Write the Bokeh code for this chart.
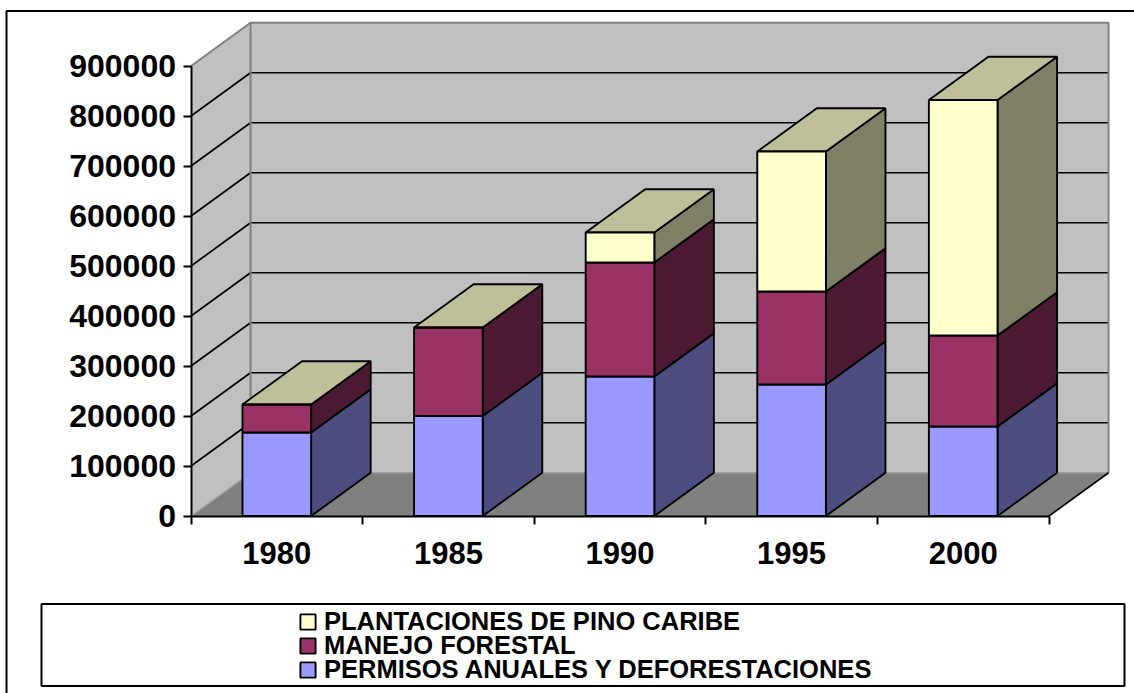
from bokeh.plotting import figure
from bokeh.models import (Range1d, FixedTicker, NumeralTickFormatter, Legend, LegendItem,
                          BoxAnnotation, LinearAxis)
from bokeh.embed import file_html
from bokeh.resources import INLINE

years = ["1980", "1985", "1990", "1995", "2000"]
permisos = [167000, 200000, 279000, 263000, 179000]
manejo = [56000, 177000, 228000, 186000, 182000]
plantaciones = [0, 0, 60000, 280000, 471000]
series_names = ["PERMISOS ANUALES Y DEFORESTACIONES", "MANEJO FORESTAL", "PLANTACIONES DE PINO CARIBE"]
front_colors = ["#9999FF", "#993366", "#FFFFCC"]
side_colors = ["#4D4D80", "#4D1A33", "#808066"]
top_color = "#BFBF99"
y_ticks = [0, 100000, 200000, 300000, 400000, 500000, 600000, 700000, 800000, 900000]

# oblique projection of the 3-D box, in data units
DX = 0.347
DY = 86500
BAR = 0.4
YMAX = 900000
NCAT = len(years)

W, H = 1134, 693
X0, Y0 = 190.5, 515.5      # where the axes cross, in page pixels
PX_CAT, PX_UNIT = 171.6, 0.0005

p = figure(width=W, height=H, output_backend="svg", toolbar_location=None,
           x_axis_type=None, y_axis_type=None,
           x_range=Range1d(-X0 / PX_CAT, (W - X0) / PX_CAT),
           y_range=Range1d(-(H - Y0) / PX_UNIT, Y0 / PX_UNIT),
           min_border=0, margin=(0, 0, 0, 0),
           background_fill_color="white", border_fill_color="white",
           outline_line_color=None)
p.grid.visible = False

WALL, EDGE, FLOOR = "#C0C0C0", "#808080", "#808080"
# side wall, back wall, floor
p.patch([0, DX, DX, 0], [0, DY, YMAX + DY, YMAX], fill_color=WALL, line_color=None)
p.patch([DX, NCAT + DX, NCAT + DX, DX], [DY, DY, YMAX + DY, YMAX + DY], fill_color=WALL, line_color=None)
p.patch([0, DX, NCAT + DX, NCAT], [0, DY, DY, 0], fill_color=FLOOR, line_color=None)

# gridlines
grid = [t for t in y_ticks if 0 < t < YMAX]
p.multi_line([[0, DX, NCAT + DX] for _ in grid], [[t, t + DY, t + DY] for t in grid],
             line_color="black", line_width=1.7)
# wall edges
p.line([0, DX, NCAT + DX, NCAT + DX], [YMAX, YMAX + DY, YMAX + DY, DY], line_color=EDGE, line_width=2)
p.line([DX, DX], [DY, YMAX + DY], line_color=EDGE, line_width=2)
p.line([DX, NCAT + DX], [DY, DY], line_color="#A0A0A0", line_width=1.4)
p.line([0, DX], [0, DY], line_color="#A6A6A6", line_width=1.4)
p.line([NCAT, NCAT + DX], [0, DY], line_color="black", line_width=1.7)

LW = 1.9
bottom = [0] * NCAT
fronts = []
series = [permisos, manejo, plantaciones]
for k, vals in enumerate(series):
    top = [b + v for b, v in zip(bottom, vals)]
    left = [i + 0.5 - BAR / 2 for i in range(NCAT)]
    right = [i + 0.5 + BAR / 2 for i in range(NCAT)]
    p.patches([[r, r + DX, r + DX, r] for r in right],
              [[b, b + DY, t + DY, t] for b, t in zip(bottom, top)],
              fill_color=side_colors[k], line_color="black", line_width=LW)
    if k == len(series) - 1:
        p.patches([[l, l + DX, r + DX, r] for l, r in zip(left, right)],
                  [[t, t + DY, t + DY, t] for t in top],
                  fill_color=top_color, line_color="black", line_width=LW)
    fronts.append(p.quad(left=left, right=right, bottom=bottom, top=top,
                         fill_color=front_colors[k], line_color="black", line_width=LW))
    bottom = top

# axes
FONT = "Liberation Sans"
ya = LinearAxis(fixed_location=0)
ya.ticker = FixedTicker(ticks=y_ticks)
ya.formatter = NumeralTickFormatter(format="0")
ya.bounds = (0, YMAX)
ya.axis_line_color = "black"
ya.axis_line_width = 2
ya.major_tick_line_color = "black"
ya.major_tick_line_width = 2
ya.major_tick_in = 0
ya.major_tick_out = 8
ya.minor_tick_line_color = None
ya.major_label_standoff = 7
ya.major_label_text_font = FONT
ya.major_label_text_font_style = "bold"
ya.major_label_text_font_size = "32px"
ya.major_label_text_color = "black"
p.add_layout(ya, "left")

xa = LinearAxis(fixed_location=0)
centers = [i + 0.5 for i in range(NCAT)]
xa.ticker = FixedTicker(ticks=centers, minor_ticks=list(range(NCAT + 1)))
xa.major_label_overrides = {c: y for c, y in zip(centers, years)}
xa.bounds = (0, NCAT)
xa.axis_line_color = "black"
xa.axis_line_width = 2
xa.major_tick_line_color = None
xa.major_tick_in = 0
xa.major_tick_out = 0
xa.minor_tick_line_color = "black"
xa.minor_tick_line_width = 2
xa.minor_tick_in = 0
xa.minor_tick_out = 8
xa.major_label_standoff = 18
xa.major_label_text_font = FONT
xa.major_label_text_font_style = "bold"
xa.major_label_text_font_size = "31px"
xa.major_label_text_color = "black"
p.add_layout(xa, "below")

# frames in page pixels (screen y of a box annotation counts from the bottom)
p.add_layout(BoxAnnotation(left=6, right=1150, top=H - 10.5, bottom=-20,
                           left_units="screen", right_units="screen", top_units="screen", bottom_units="screen",
                           fill_alpha=0, line_color="black", line_width=2, line_alpha=1))
p.add_layout(BoxAnnotation(left=41, right=1124, top=H - 603.5, bottom=H - 685.5,
                           left_units="screen", right_units="screen", top_units="screen", bottom_units="screen",
                           fill_alpha=0, line_color="black", line_width=2, line_alpha=1))

# one legend per row: the rows sit closer together than a single legend allows
for row, k in enumerate((2, 1, 0)):
    legend = Legend(items=[LegendItem(label=series_names[k], renderers=[fronts[k]])],
                    location=(298, H - 636 - 24 * row), orientation="vertical",
                    padding=0, margin=0, spacing=0,
                    glyph_width=19, glyph_height=19, label_height=19, label_standoff=7,
                    label_text_font=FONT, label_text_font_style="bold", label_text_font_size="25.5px",
                    label_text_color="black",
                    border_line_color=None, background_fill_alpha=0)
    p.add_layout(legend, "center")

open("out.html", "w").write(file_html(p, INLINE))
